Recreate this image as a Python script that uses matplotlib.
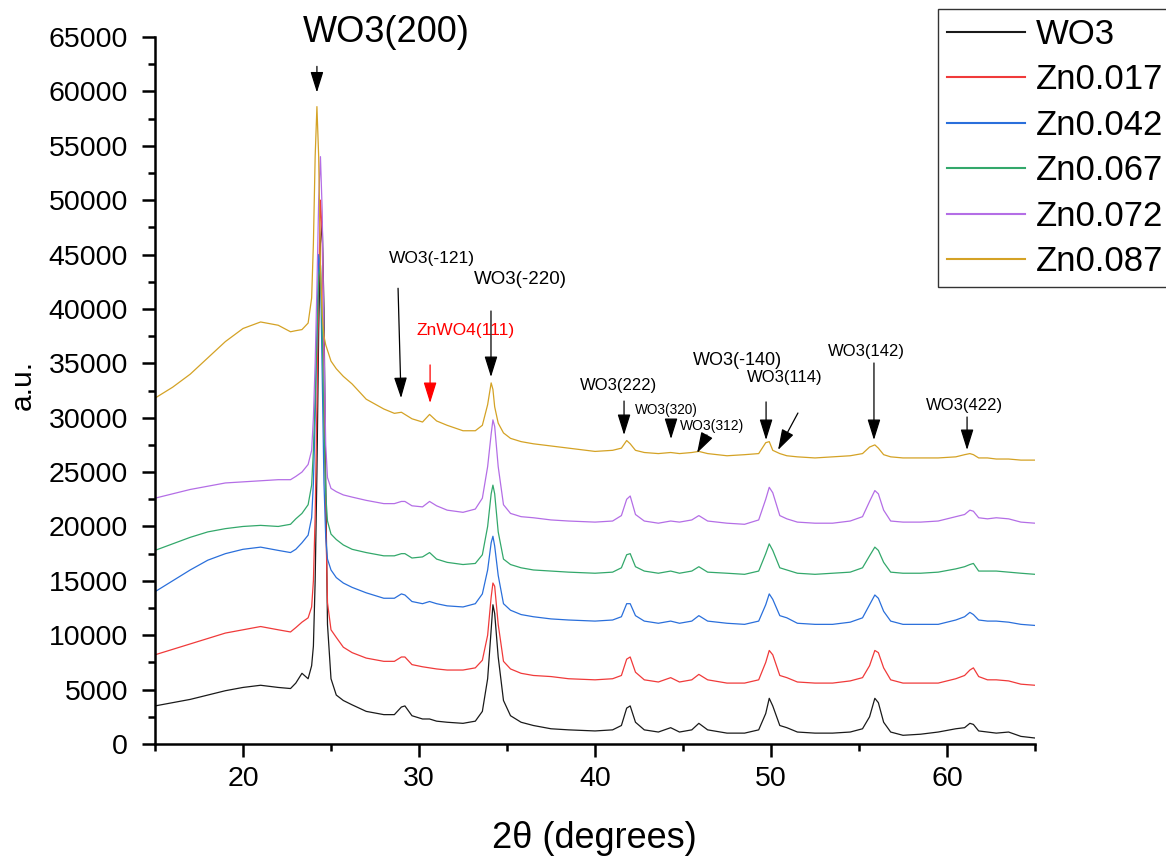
import matplotlib
matplotlib.use("Agg")
import matplotlib.pyplot as plt
from matplotlib.ticker import MultipleLocator

plt.rcParams['font.family'] = ['Liberation Sans', 'DejaVu Sans']

# 2-theta sampling positions (degrees)
two_theta = [
    15, 16, 17, 18, 19, 20, 21, 22, 22.7, 23.0, 23.35, 23.7, 23.9, 24.0, 24.1,
    24.2, 24.3, 24.4, 24.5, 24.6, 24.7, 24.8, 25.0, 25.3, 25.7, 26.2, 27.0, 28.0,
    28.6, 29.0, 29.2, 29.6, 30.2, 30.6, 31.0, 31.6, 32.5, 33.2, 33.6, 33.9, 34.1,
    34.2, 34.3, 34.5, 34.8, 35.2, 35.8, 36.5, 37.5, 38.5, 40.0, 41.0, 41.5, 41.8,
    42.0, 42.3, 42.8, 43.6, 44.3, 44.8, 45.5, 45.9, 46.4, 47.5, 48.5, 49.3, 49.7,
    49.9, 50.1, 50.5, 50.9, 51.5, 52.5, 53.5, 54.5, 55.2, 55.6, 55.9, 56.1, 56.4,
    56.8, 57.5, 58.5, 59.5, 60.5, 61.0, 61.3, 61.5, 61.8, 62.3, 62.8, 63.5, 64.2,
    65.0,
]

wo3 = [
    3500, 3800, 4100, 4500, 4900, 5200, 5400, 5200, 5100, 5600, 6500, 6000, 7200,
    9000, 15000, 25000, 38000, 46000, 48000, 40000, 24000, 11000, 6000, 4500,
    4000, 3600, 3000, 2700, 2700, 3400, 3500, 2600, 2300, 2300, 2100, 2000, 1900,
    2100, 3000, 6000, 10500, 12800, 12000, 8000, 4000, 2600, 2000, 1700, 1400,
    1300, 1200, 1300, 1700, 3300, 3500, 2000, 1300, 1100, 1500, 1100, 1300, 1900,
    1300, 1000, 1000, 1300, 2800, 4200, 3500, 1700, 1500, 1100, 1000, 1000, 1100,
    1400, 2500, 4200, 3800, 2000, 1100, 800, 900, 1100, 1400, 1500, 1900, 1800,
    1200, 1100, 1000, 1100, 700, 550,
]

zn0017 = [
    8200, 8700, 9200, 9700, 10200, 10500, 10800, 10500, 10300, 10700, 11200,
    11600, 12600, 15000, 21000, 31000, 42000, 50000, 47000, 34000, 21000, 13000,
    10500, 9800, 8900, 8400, 7900, 7600, 7600, 8000, 8000, 7300, 7100, 7000, 6900,
    6800, 6800, 7000, 7700, 10000, 13500, 14800, 14500, 11000, 7600, 6900, 6500,
    6300, 6200, 6000, 5900, 6000, 6300, 7800, 8000, 6600, 5900, 5700, 6100, 5700,
    5900, 6400, 5900, 5600, 5600, 5900, 7500, 8600, 8200, 6300, 6100, 5700, 5600,
    5600, 5800, 6100, 7200, 8600, 8400, 7000, 5900, 5600, 5600, 5600, 6000, 6300,
    6800, 7000, 6200, 5900, 5900, 5800, 5500, 5400,
]

zn0042 = [
    14000, 15000, 16000, 16900, 17500, 17900, 18100, 17800, 17600, 17900, 18500,
    19200, 20800, 24000, 30000, 38000, 45000, 44000, 34000, 24000, 19000, 17000,
    16000, 15300, 14800, 14400, 13900, 13400, 13400, 13800, 13700, 13100, 12900,
    13100, 12900, 12700, 12600, 12900, 13800, 16000, 18500, 19100, 18200, 15500,
    12900, 12300, 11900, 11700, 11500, 11400, 11300, 11400, 11700, 12900, 12900,
    11800, 11300, 11100, 11300, 11100, 11300, 11800, 11300, 11100, 11000, 11300,
    12800, 13800, 13300, 11800, 11600, 11100, 11000, 11000, 11200, 11600, 12800,
    13700, 13400, 12200, 11300, 11000, 11000, 11000, 11400, 11700, 12100, 11900,
    11400, 11300, 11300, 11200, 11000, 10900,
]

zn0067 = [
    17800, 18400, 19000, 19500, 19800, 20000, 20100, 20000, 20200, 20700, 21200,
    22000, 23800, 27000, 32000, 37000, 43000, 44000, 38000, 29000, 23000, 20500,
    19300, 18800, 18300, 17900, 17600, 17300, 17300, 17500, 17500, 17100, 17200,
    17600, 17000, 16700, 16500, 16600, 17400, 20000, 23000, 23800, 23000, 19500,
    17000, 16500, 16200, 16000, 15900, 15800, 15700, 15800, 16200, 17400, 17500,
    16300, 15900, 15700, 15900, 15700, 15900, 16300, 15800, 15700, 15600, 15900,
    17500, 18400, 17800, 16200, 16000, 15700, 15600, 15700, 15800, 16200, 17300,
    18100, 17800, 16700, 15800, 15700, 15700, 15800, 16100, 16300, 16500, 16600,
    15900, 15900, 15900, 15800, 15700, 15600,
]

zn0072 = [
    22600, 23000, 23400, 23700, 24000, 24100, 24200, 24300, 24300, 24600, 25000,
    25700, 27000, 30000, 35000, 42000, 50000, 54000, 49000, 37000, 27500, 24500,
    23500, 23200, 22900, 22700, 22400, 22100, 22100, 22300, 22300, 21900, 21800,
    22300, 21900, 21500, 21300, 21600, 22600, 25500, 28500, 29800, 29200, 25500,
    22000, 21200, 20900, 20800, 20600, 20500, 20400, 20500, 21000, 22500, 22800,
    21100, 20500, 20300, 20500, 20400, 20600, 21000, 20500, 20300, 20200, 20600,
    22500, 23600, 23100, 21000, 20700, 20400, 20300, 20300, 20500, 20900, 22300,
    23300, 23000, 21500, 20500, 20400, 20400, 20500, 20900, 21100, 21500, 21400,
    20800, 20700, 20800, 20700, 20400, 20300,
]

zn0087 = [
    31800, 32800, 34000, 35500, 37000, 38200, 38800, 38500, 37900, 38000, 38100,
    38700, 41000, 46000, 54000, 58600, 54000, 44000, 39500, 37500, 36700, 36200,
    35200, 34500, 33800, 33100, 31700, 30800, 30400, 30500, 30300, 29900, 29600,
    30300, 29700, 29300, 28800, 28800, 29300, 31200, 33200, 32600, 31000, 29500,
    28600, 28100, 27800, 27600, 27400, 27200, 26900, 27000, 27200, 27900, 27600,
    27000, 26800, 26700, 26800, 26700, 26800, 26900, 26700, 26500, 26600, 26700,
    27700, 27800, 27000, 26700, 26500, 26400, 26300, 26400, 26500, 26700, 27300,
    27500, 27200, 26600, 26400, 26300, 26300, 26300, 26400, 26600, 26700, 26600,
    26300, 26300, 26200, 26200, 26100, 26100,
]

series_labels = ['WO3', 'Zn0.017', 'Zn0.042', 'Zn0.067', 'Zn0.072', 'Zn0.087']
series_colors = ['#1a1a1a', '#f03a3a', '#2a6fdb', '#33a86b', '#b46ee6', '#d4a225']
series_values = [wo3, zn0017, zn0042, zn0067, zn0072, zn0087]

# reflection labels: text, text position, arrow start, arrow tip, size, colour
peak_labels = [
    ('WO3(200)', (28.13, 65370), (24.2, 62300), (24.2, 59900), 26, 'black'),
    ('WO3(-121)', (30.74, 44680), (28.81, 41900), (28.98, 31800), 12.5, 'black'),
    ('ZnWO4(111)', (32.67, 38060), (30.63, 34850), (30.63, 31350), 12.5, 'red'),
    ('WO3(-220)', (35.74, 42660), (34.09, 39810), (34.09, 33740), 13.5, 'black'),
    ('WO3(222)', (41.36, 33000), (41.65, 31530), (41.65, 28410), 12, 'black'),
    ('WO3(320)', (44.03, 30710), (44.32, 29600), (44.32, 28040), 9.8, 'black'),
    ('WO3(312)', (46.65, 29240), (46.36, 28410), (45.80, 26760), 10, 'black'),
    ('WO3(-140)', (48.07, 35300), (49.72, 31450), (49.72, 27950), 13, 'black'),
    ('WO3(114)', (50.80, 33740), (51.53, 30430), (50.40, 27030), 12, 'black'),
    ('WO3(142)', (55.40, 36130), (55.85, 35030), (55.85, 27950), 12, 'black'),
    ('WO3(422)', (61.02, 31075), (61.14, 30065), (61.14, 27030), 12, 'black'),
]

fig = plt.figure(figsize=(11.66, 8.6), dpi=100)
ax = fig.add_axes([155 / 1166, 116 / 860, 880 / 1166, 707 / 860])

for vals, lab, col in zip(series_values, series_labels, series_colors):
    ax.plot(two_theta, vals, color=col, lw=0.9, label=lab)

for text, tpos, start, tip, size, col in peak_labels:
    ax.text(tpos[0], tpos[1], text, fontsize=size, color=col,
            ha='center', va='center', clip_on=False)
    ax.annotate('', xy=tip, xytext=start, xycoords='data', textcoords='data',
                annotation_clip=False,
                arrowprops=dict(arrowstyle='-|>,head_length=0.8,head_width=0.25',
                                mutation_scale=16, color=col, lw=0.9,
                                shrinkA=0, shrinkB=0))

ax.set_xlim(15, 65)
ax.set_ylim(0, 65000)
ax.xaxis.set_major_locator(MultipleLocator(10))
ax.xaxis.set_minor_locator(MultipleLocator(5))
ax.yaxis.set_major_locator(MultipleLocator(5000))
ax.yaxis.set_minor_locator(MultipleLocator(2500))

for side in ('top', 'right'):
    ax.spines[side].set_visible(False)
for side in ('left', 'bottom'):
    ax.spines[side].set_linewidth(1.8)

ax.tick_params(which='major', direction='out', length=9.5, width=1.8,
               labelsize=20.5)
ax.tick_params(axis='y', which='major', pad=10)
ax.tick_params(axis='x', which='major', pad=6)
ax.tick_params(which='minor', direction='out', length=5, width=1.8)

fig.text(23 / 1166, 1 - 385 / 860, 'a.u.', rotation=90, fontsize=21.5,
         ha='center', va='center')
fig.text(594 / 1166, 1 - 838 / 860, '2\u03b8 (degrees)', fontsize=26,
         ha='center', va='center')

leg = fig.legend(loc='upper left', bbox_to_anchor=(938 / 1166, 1 - 9 / 860),
                 bbox_transform=fig.transFigure, borderaxespad=0,
                 fontsize=25, handlelength=2.25, handletextpad=0.32,
                 labelspacing=0.36, borderpad=0.25, fancybox=False,
                 frameon=True)
leg.get_frame().set_edgecolor('black')
leg.get_frame().set_linewidth(1.0)
for line in leg.get_lines():
    line.set_linewidth(1.5)

fig.savefig('out.png', dpi=100)
